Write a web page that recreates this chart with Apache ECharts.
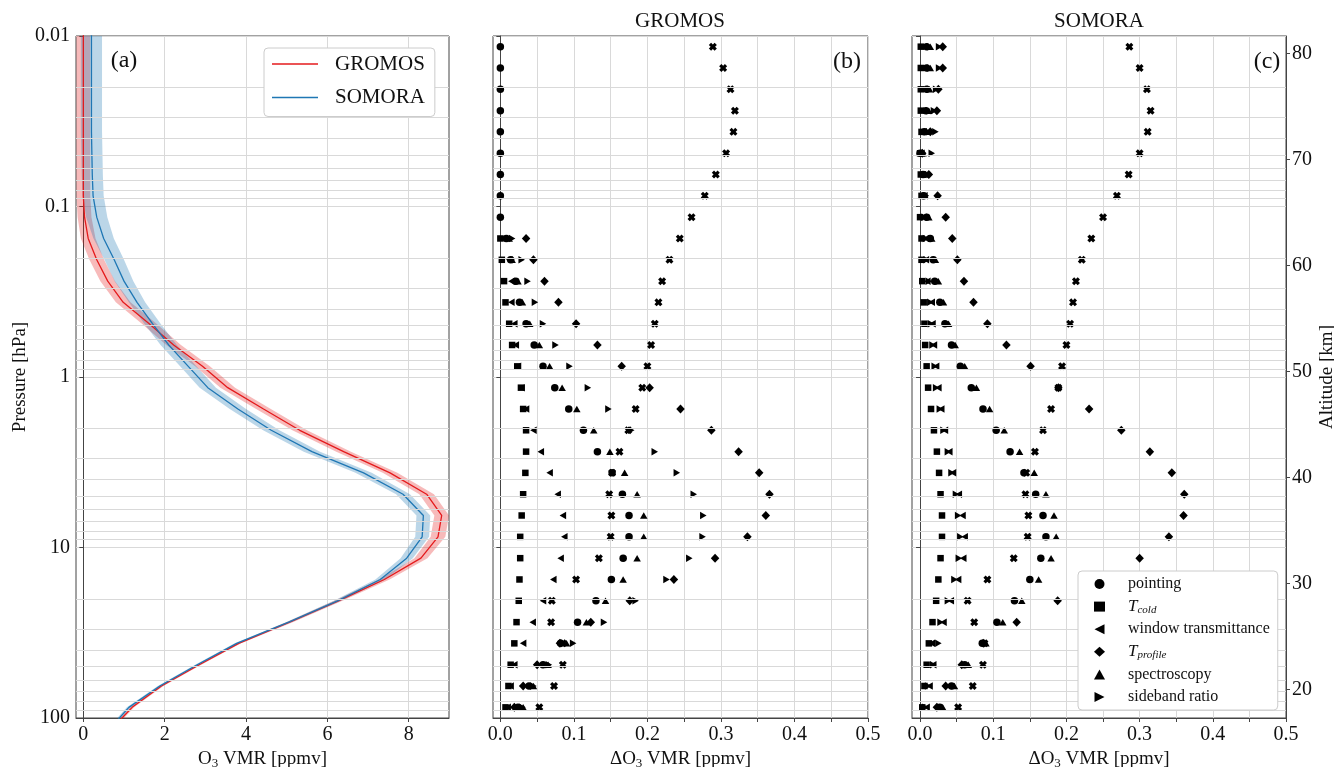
<!DOCTYPE html>
<html><head><meta charset="utf-8">
<script src="https://cdn.jsdelivr.net/npm/echarts@6/dist/echarts.min.js"></script>
<style>html,body{margin:0;padding:0;background:#fff}#c{width:1334px;height:767px}</style>
</head><body><div id="c"></div>
<script>
// ---------- data ----------
const pressure = [0.00866,0.01155,0.0154,0.02054,0.0274,0.0365,0.0487,0.0649,0.0866,0.1155,0.154,0.2054,0.274,0.365,0.487,0.649,0.866,1.155,1.54,2.054,2.74,3.65,4.87,6.49,8.66,11.55,15.4,20.54,27.4,36.5,48.7,64.9,86.6,115.5];
const gromosVmr = [0,0,0,0,0,0,0,0,0,0.03,0.12,0.33,0.6,0.98,1.62,2.22,2.93,3.55,4.43,5.32,6.4,7.54,8.44,8.81,8.72,8.3,7.4,6.27,5.07,3.82,2.85,1.92,1.2,0.7];
const gromosErr = [0.17,0.17,0.17,0.17,0.17,0.17,0.17,0.17,0.17,0.17,0.18,0.18,0.18,0.18,0.18,0.18,0.18,0.18,0.18,0.18,0.18,0.18,0.18,0.18,0.18,0.16,0.13,0.1,0.08,0.06,0.05,0.05,0.05,0.05];
const somoraVmr = [0.2,0.2,0.2,0.2,0.2,0.2,0.21,0.22,0.24,0.33,0.5,0.76,1.0,1.32,1.7,2.1,2.58,3.06,3.8,4.62,5.62,6.89,7.86,8.36,8.33,7.95,7.3,6.25,5.05,3.77,2.8,1.88,1.12,0.65];
const somoraErr = [0.26,0.26,0.26,0.26,0.26,0.26,0.26,0.26,0.26,0.26,0.25,0.24,0.23,0.2,0.2,0.2,0.2,0.2,0.2,0.2,0.2,0.2,0.17,0.17,0.17,0.15,0.12,0.09,0.07,0.05,0.05,0.05,0.05,0.05];

const markerPressure = pressure.slice(1, 33);
// GROMOS error contributions
const gPointing = [0,0,0,0,0,0,0,0,0,0.008,0.014,0.021,0.026,0.035,0.046,0.058,0.074,0.093,0.113,0.132,0.152,0.166,0.175,0.175,0.167,0.151,0.130,0.105,0.082,0.058,0.039,0.024];
const gTcold = [null,null,null,null,null,null,null,null,null,0.0,0.002,0.005,0.007,0.012,0.016,0.023,0.028,0.031,0.035,0.035,0.034,0.031,0.029,0.027,0.027,0.026,0.025,0.022,0.019,0.014,0.011,0.007];
const gWindow = [null,null,null,null,null,null,null,null,null,0.006,0.012,0.015,0.015,0.019,0.021,0.024,0.029,0.035,0.045,0.055,0.067,0.078,0.085,0.087,0.082,0.072,0.058,0.044,0.031,0.019,0.014,0.010];
const gTprofile = [null,null,null,null,null,null,null,null,null,0.035,0.045,0.060,0.079,0.103,0.132,0.165,0.203,0.245,0.287,0.324,0.352,0.366,0.361,0.336,0.292,0.236,0.176,0.123,0.081,0.050,0.031,0.019];
const gSpectro = [null,null,null,null,null,null,null,null,null,0.012,0.016,0.024,0.030,0.040,0.053,0.067,0.084,0.104,0.127,0.149,0.169,0.186,0.195,0.195,0.186,0.167,0.143,0.117,0.090,0.065,0.045,0.031];
const gSideband = [null,null,null,null,null,null,null,null,null,0.016,0.029,0.037,0.047,0.058,0.075,0.094,0.119,0.147,0.178,0.210,0.240,0.263,0.276,0.275,0.257,0.226,0.184,0.141,0.099,0.066,0.045,0.030];
const gTotal = [0.289,0.303,0.313,0.319,0.317,0.307,0.293,0.278,0.260,0.244,0.230,0.220,0.215,0.210,0.205,0.200,0.193,0.184,0.174,0.162,0.152,0.148,0.151,0.150,0.134,0.103,0.070,0.069,0.085,0.085,0.073,0.053];
// SOMORA error contributions
const sPointing = [0.009,0.009,0.009,0.008,0.006,0.0,0.004,0.005,0.009,0.014,0.018,0.020,0.027,0.034,0.043,0.055,0.070,0.086,0.104,0.123,0.142,0.158,0.168,0.172,0.165,0.150,0.129,0.105,0.085,0.061,0.043,0.027];
const sTcold = [0.001,0.001,0.001,0.001,0.002,0.0,0.001,0.002,0.0,0.002,0.002,0.003,0.005,0.006,0.007,0.009,0.011,0.015,0.019,0.023,0.026,0.028,0.030,0.030,0.028,0.025,0.022,0.017,0.012,0.009,0.006,0.003];
const sWindow = [0.006,0.006,0.006,0.005,0.005,0.002,0.004,0.006,0.005,0.008,0.008,0.010,0.016,0.017,0.019,0.022,0.025,0.029,0.034,0.040,0.045,0.053,0.058,0.061,0.059,0.052,0.042,0.032,0.016,0.018,0.013,0.009];
const sTprofile = [0.031,0.031,0.025,0.023,0.014,0.003,0.012,0.024,0.035,0.044,0.051,0.060,0.073,0.092,0.118,0.151,0.189,0.231,0.275,0.314,0.344,0.361,0.360,0.340,0.300,0.245,0.188,0.132,0.087,0.057,0.035,0.023];
const sSpectro = [0.014,0.014,0.013,0.012,0.008,0.004,0.006,0.007,0.012,0.016,0.021,0.025,0.032,0.039,0.048,0.061,0.077,0.095,0.115,0.136,0.156,0.172,0.183,0.186,0.179,0.162,0.139,0.113,0.090,0.066,0.047,0.031];
const sSideband = [0.026,0.026,0.022,0.019,0.021,0.016,0.010,0.008,0.006,0.008,0.009,0.012,0.014,0.015,0.017,0.020,0.022,0.027,0.032,0.038,0.043,0.049,0.052,0.055,0.053,0.047,0.038,0.028,0.025,0.018,0.011,0.007];
const sTotal = [0.286,0.300,0.310,0.315,0.311,0.300,0.285,0.269,0.250,0.234,0.221,0.213,0.209,0.205,0.200,0.194,0.189,0.179,0.168,0.157,0.145,0.144,0.148,0.147,0.128,0.092,0.065,0.074,0.088,0.086,0.072,0.052];

// tick / grid values
const minorPressure = [0.02,0.03,0.04,0.05,0.06,0.07,0.08,0.09,0.2,0.3,0.4,0.5,0.6,0.7,0.8,0.9,2,3,4,5,6,7,8,9,20,30,40,50,60,70,80,90];
const vmrTicks = [0,2,4,6,8];
const dLabelTicks = [0,0.1,0.2,0.3,0.4,0.5];
const dGridTicks = [0,0.05,0.1,0.15,0.2,0.25,0.3,0.35,0.4,0.45,0.5];
const altTicks = [20,30,40,50,60,70,80];
const contribNames = ['pointing','Tcold','window transmittance','Tprofile','spectroscopy','sideband ratio'];

// ---------- styling ----------
const FONT = "'Liberation Serif','DejaVu Serif',serif";
const TXT = '#111';
const GRIDC = '#d9d9d9';
const SPINE = '#444';
const RED = '#e41a1c', BLUE = '#1f77b4';

const symbols = {
  'pointing': {symbol:'circle', size:7.5},
  'Tcold': {symbol:'rect', size:6.5},
  'window transmittance': {symbol:'path://M10,0L10,10L0,5Z', size:[6.5,7.5]},
  'Tprofile': {symbol:'diamond', size:[8.5,9]},
  'spectroscopy': {symbol:'triangle', size:[7.5,6.5]},
  'sideband ratio': {symbol:'path://M0,0L0,10L10,5Z', size:[6.5,7.5]},
  'total': {symbol:'path://M0,2.8L2.8,0L5,2.2L7.2,0L10,2.8L7.8,5L10,7.2L7.2,10L5,7.8L2.8,10L0,7.2L2.2,5Z', size:8}
};

function gridLines(xi, yi){
  return {type:'scatter', name:'_grid'+xi, xAxisIndex:xi, yAxisIndex:yi, data:[], z:0, silent:true,
    markLine:{silent:true, symbol:['none','none'], animation:false, label:{show:false},
      lineStyle:{color:GRIDC, width:1, type:'solid'},
      data: minorPressure.map(p => ({yAxis:p}))}};
}
function band(name, vmr, err, color){
  return {type:'custom', name:name, xAxisIndex:0, yAxisIndex:0, z:1, silent:true, data:[[0,1]],
    renderItem:function(params, api){
      const pts = [];
      for (let i = 0; i < vmr.length; i++) pts.push(api.coord([vmr[i]-err[i], pressure[i]]));
      for (let i = vmr.length-1; i >= 0; i--) pts.push(api.coord([vmr[i]+err[i], pressure[i]]));
      const cs = params.coordSys;
      return {type:'polygon', shape:{points:pts}, style:{fill:color},
        clipPath:{type:'rect', shape:{x:cs.x, y:cs.y, width:cs.width, height:cs.height}}};
    }};
}
function profile(name, vmr, color){
  return {type:'line', name:name, xAxisIndex:0, yAxisIndex:0, z:3, symbol:'none', clip:true,
    lineStyle:{color:color, width:1.3}, itemStyle:{color:color},
    data: vmr.map((v,i) => [v, pressure[i]])};
}
function markers(name, arr, xi, yi, z){
  const s = symbols[name];
  const d = [];
  arr.forEach((v,i) => { if (v !== null) d.push([v, markerPressure[i]]); });
  return {type:'scatter', name:name, xAxisIndex:xi, yAxisIndex:yi, z:z||3, symbol:s.symbol, symbolSize:s.size,
    itemStyle:{color:'#000', opacity:1}, data:d};
}

const logAxisBase = (gi, showLabel) => ({
  gridIndex:gi, type:'log', logBase:10, min:0.01, max:100, inverse:true,
  axisLine:{show:true, lineStyle:{color:SPINE, width:1}},
  axisTick:{show:true, length:4, lineStyle:{color:SPINE}},
  axisLabel:{show:showLabel, color:TXT, fontFamily:FONT, fontSize:20, margin:6,
    formatter: v => String(+v)},
  splitLine:{show:true, lineStyle:{color:GRIDC, width:1}},
  minorTick:{show:false}
});
const subRich = {a:{fontFamily:FONT, fontSize:19, color:TXT, lineHeight:22}, b:{fontFamily:FONT, fontSize:13, color:TXT, lineHeight:12, verticalAlign:'bottom'}};
const dAxis = (gi, mn) => ({
  gridIndex:gi, type:'value', min:mn, max:0.5,
  axisLine:{show:true, onZero:false, lineStyle:{color:SPINE, width:1}},
  axisTick:{show:true, length:4, customValues:dGridTicks, lineStyle:{color:SPINE}},
  axisLabel:{color:TXT, fontFamily:FONT, fontSize:20, margin:7, customValues:dLabelTicks, formatter: v => (+v).toFixed(1)},
  splitLine:{show:true, lineStyle:{color:GRIDC, width:1}},
  name:'{a|ΔO}{b|3}{a| VMR [ppmv]}', nameLocation:'middle', nameGap:25,
  nameTextStyle:{color:TXT, fontFamily:FONT, fontSize:19, rich:subRich}
});

const series = [
  gridLines(0,0), gridLines(1,1), gridLines(2,2),
  band('GROMOS band', gromosVmr, gromosErr, 'rgba(228,26,28,0.30)'),
  band('SOMORA band', somoraVmr, somoraErr, 'rgba(31,119,180,0.30)'),
  profile('GROMOS', gromosVmr, RED),
  profile('SOMORA', somoraVmr, BLUE),
  markers('total', gTotal, 1, 1),
  markers('Tcold', gTcold, 1, 1),
  markers('window transmittance', gWindow, 1, 1),
  markers('Tprofile', gTprofile, 1, 1),
  markers('spectroscopy', gSpectro, 1, 1),
  markers('sideband ratio', gSideband, 1, 1),
  markers('pointing', gPointing, 1, 1, 4),
  markers('total', sTotal, 2, 2),
  markers('pointing', sPointing, 2, 2),
  markers('Tcold', sTcold, 2, 2),
  markers('window transmittance', sWindow, 2, 2),
  markers('Tprofile', sTprofile, 2, 2),
  markers('spectroscopy', sSpectro, 2, 2),
  markers('sideband ratio', sSideband, 2, 2)
];

const gridBase = {top:36, height:682, show:true, borderColor:SPINE, borderWidth:1, backgroundColor:'transparent', outerBoundsMode:'none', containLabel:false};
const option = {
  animation:false,
  backgroundColor:'#fff',
  textStyle:{fontFamily:FONT, color:TXT},
  grid:[
    Object.assign({left:76, width:373}, gridBase),
    Object.assign({left:493, width:375}, gridBase),
    Object.assign({left:912, width:374}, gridBase)
  ],
  xAxis:[
    {gridIndex:0, type:'value', min:-0.18, max:8.99,
     axisLine:{show:true, onZero:false, lineStyle:{color:SPINE, width:1}},
     axisTick:{show:true, length:4, customValues:vmrTicks, lineStyle:{color:SPINE}},
     axisLabel:{color:TXT, fontFamily:FONT, fontSize:20, margin:7, customValues:vmrTicks},
     splitLine:{show:true, lineStyle:{color:GRIDC, width:1}},
     name:'{a|O}{b|3}{a| VMR [ppmv]}', nameLocation:'middle', nameGap:25,
     nameTextStyle:{color:TXT, fontFamily:FONT, fontSize:19, rich:subRich}},
    dAxis(1, -0.01),
    dAxis(2, -0.011)
  ],
  yAxis:[
    Object.assign(logAxisBase(0, true), {name:'Pressure [hPa]', nameLocation:'middle', nameGap:46, nameRotate:90,
      nameTextStyle:{color:TXT, fontFamily:FONT, fontSize:19}}),
    logAxisBase(1, false),
    logAxisBase(2, false),
    {gridIndex:2, type:'value', position:'right', min:17.33, max:81.63,
     axisLine:{show:true, lineStyle:{color:SPINE, width:1}},
     axisTick:{show:true, length:4, customValues:altTicks, lineStyle:{color:SPINE}},
     axisLabel:{color:TXT, fontFamily:FONT, fontSize:20, margin:6, customValues:altTicks},
     splitLine:{show:false},
     name:'Altitude [km]', nameLocation:'middle', nameGap:32, nameRotate:90,
     nameTextStyle:{color:TXT, fontFamily:FONT, fontSize:19}}
  ],
  legend:[
    {data:[{name:'GROMOS', icon:'rect'},{name:'SOMORA', icon:'rect'}], orient:'vertical', left:264, top:48, z:20,
     itemWidth:46, itemHeight:1.5, itemGap:11.5,
     padding:[5,10,8,8], backgroundColor:'#fff', borderColor:'#ccc', borderWidth:1, borderRadius:4,
     selectedMode:false, textStyle:{fontFamily:FONT, fontSize:21, color:TXT, lineHeight:22, padding:[0,0,0,12]}},
    {data:contribNames, orient:'vertical', left:1078, top:571, z:20, itemWidth:11, itemHeight:10, itemGap:4.6,
     padding:[4,8,4,16], backgroundColor:'#fff', borderColor:'#ccc', borderWidth:1, borderRadius:4,
     selectedMode:false,
     formatter: n => n === 'Tcold' ? '{i|T}{s|cold}' : (n === 'Tprofile' ? '{i|T}{s|profile}' : n),
     textStyle:{fontFamily:FONT, fontSize:16, color:TXT, lineHeight:18, padding:[0,0,0,18],
       rich:{i:{fontFamily:FONT, fontStyle:'italic', fontSize:17, color:TXT, lineHeight:18},
             s:{fontFamily:FONT, fontStyle:'italic', fontSize:11, color:TXT, lineHeight:10, verticalAlign:'bottom'}}}}
  ],
  graphic:[
    {type:'text', x:124, y:61, z:10, style:{text:'(a)', fontFamily:FONT, fontSize:24, fill:TXT, align:'center', verticalAlign:'middle'}},
    {type:'text', x:847, y:62, z:10, style:{text:'(b)', fontFamily:FONT, fontSize:24, fill:TXT, align:'center', verticalAlign:'middle'}},
    {type:'text', x:1267, y:62, z:10, style:{text:'(c)', fontFamily:FONT, fontSize:24, fill:TXT, align:'center', verticalAlign:'middle'}},
    {type:'text', x:680, y:21, style:{text:'GROMOS', fontFamily:FONT, fontSize:21, fill:TXT, align:'center', verticalAlign:'middle'}},
    {type:'text', x:1099, y:21, style:{text:'SOMORA', fontFamily:FONT, fontSize:21, fill:TXT, align:'center', verticalAlign:'middle'}}
  ],
  series:series
};
const chart = echarts.init(document.getElementById('c'), null, {renderer:'canvas'});
chart.setOption(option);
</script></body></html>
